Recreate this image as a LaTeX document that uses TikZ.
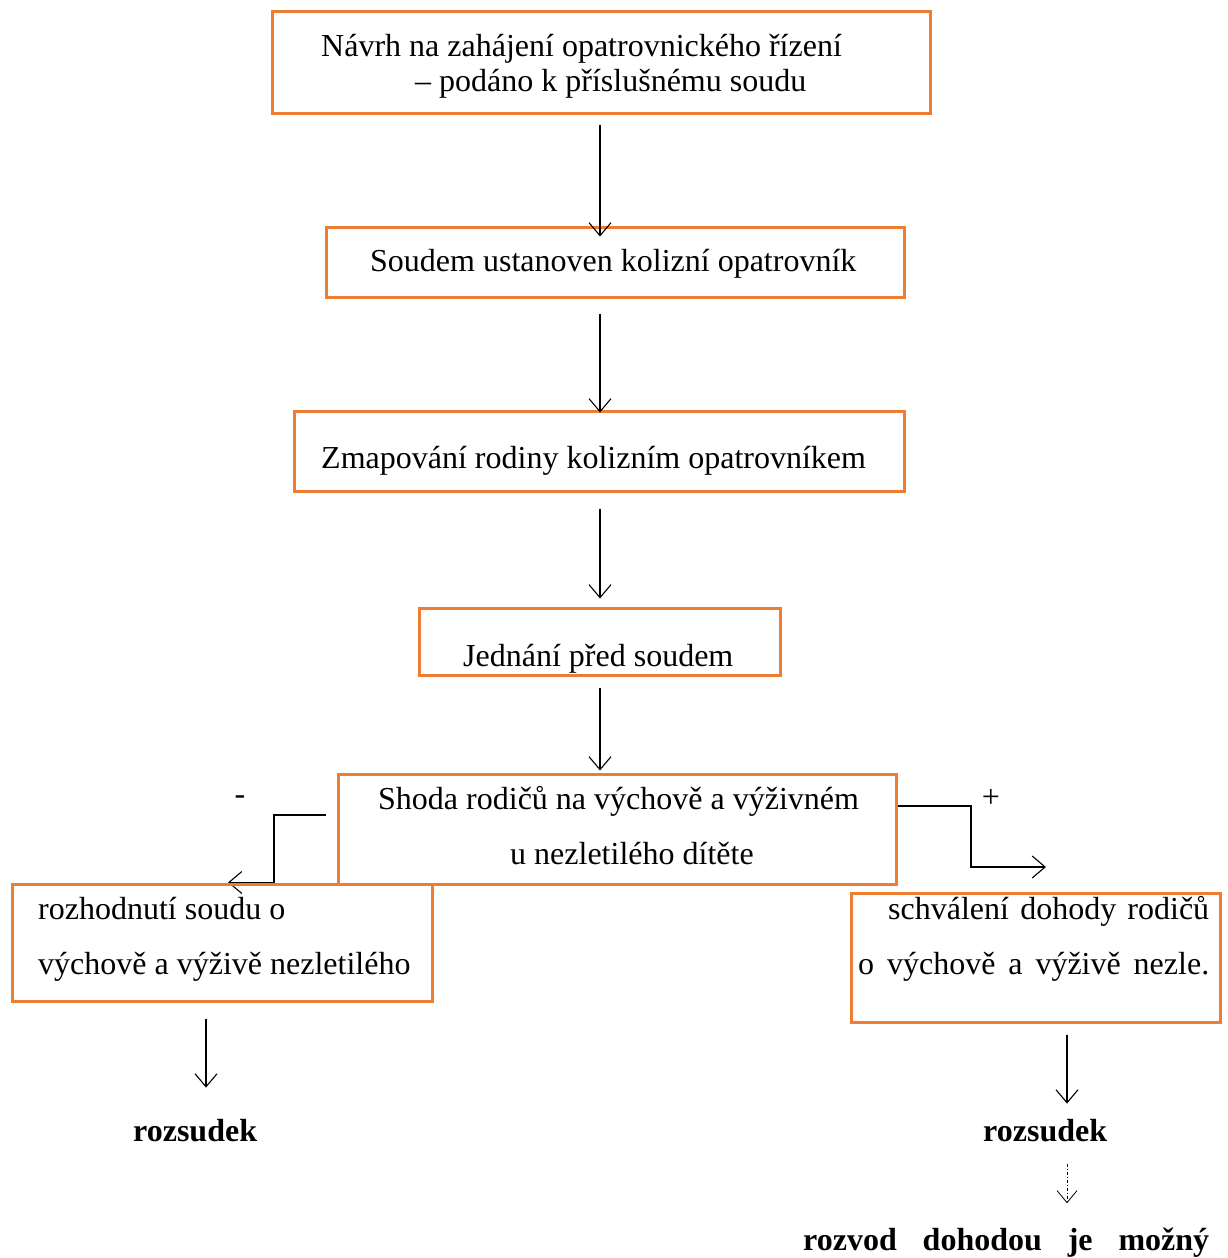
\documentclass[tikz,border=0pt]{standalone}
\usepackage{fontspec}
\setmainfont{Liberation Serif}
\usetikzlibrary{arrows.meta,backgrounds}
\definecolor{boxorange}{RGB}{237,125,49}
\tikzset{
  box/.style={draw=boxorange,line width=3pt,rectangle,inner sep=0pt},
  txt/.style={anchor=base west,inner sep=0pt,font=\fontsize{32}{38}\selectfont},
  bold/.style={txt,font=\fontsize{32}{38}\selectfont\bfseries},
  link/.style={line width=1.1pt,-{Straight Barb[length=13pt,width=22pt]}},
}
\begin{document}
\begin{tikzpicture}[x=1pt,y=-1pt]
 \useasboundingbox (0,0) rectangle (1227,1258);
 % boxes
 \node[box,minimum width=658pt,minimum height=102pt] (navrh) at (601,62) {};
 \node[box,minimum width=578pt,minimum height=70pt] (ustanoven) at (615,262) {};
 \node[box,minimum width=610pt,minimum height=80pt] (zmapovani) at (599,451) {};
 \node[box,minimum width=361pt,minimum height=67pt] (jednani) at (599.5,641.5) {};
 \node[box,minimum width=558pt,minimum height=110pt] (shoda) at (617,829) {};
 \node[box,minimum width=420pt,minimum height=117pt] (rozhodnuti) at (222,942.5) {};
 \node[box,minimum width=369pt,minimum height=129pt] (schvaleni) at (1035.5,957.5) {};
 % texts
 \node[txt] (navrh1) at (321,56) {Návrh na zahájení opatrovnického řízení};
 \node[txt] (navrh2) at (415,91) {– podáno k příslušnému soudu};
 \node[txt] (ustanovent) at (370,271) {Soudem ustanoven kolizní opatrovník};
 \node[txt] (zmapovanit) at (321,468) {Zmapování rodiny kolizním opatrovníkem};
 \node[txt] (jednanit) at (463,666) {Jednání před soudem};
 \node[txt] (shoda1) at (378,809) {Shoda rodičů na výchově a výživném};
 \node[txt] (shoda2) at (510,864) {u nezletilého dítěte};
 \node[txt] (rozhodnuti1) at (38,919) {rozhodnutí soudu o};
 \node[txt] (rozhodnuti2) at (38,974) {výchově a výživě nezletilého};
 \node[txt] (schvaleni1) at (888,919) {\makebox[321pt][s]{schválení dohody rodičů}};
 \node[txt] (schvaleni2) at (858,974) {\makebox[351pt][s]{o výchově a výživě nezle.}};
 \node[bold] (rozsudekl) at (133,1141) {rozsudek};
 \node[bold] (rozsudekr) at (983,1141) {rozsudek};
 \node[bold] (rozvod) at (803,1250) {\makebox[406pt][s]{rozvod dohodou je možný}};
 \node[txt,anchor=center] (minus) at (240,800) {-};
 \node[txt,anchor=center] (plus) at (991,798) {+};
 % connectors
 \draw[link] ([yshift=-10pt]navrh.south -| 600,0) -- ([yshift=-11pt]ustanoven.north -| 600,0);
 \draw[link] ([yshift=-15pt]ustanoven.south -| 600,0) -- ([yshift=-3pt]zmapovani.north -| 600,0);
 \draw[link] ([yshift=-16pt]zmapovani.south -| 600,0) -- ([yshift=8pt]jednani.north -| 600,0);
 \draw[link] ([yshift=-11pt]jednani.south -| 600,0) -- ([yshift=2pt]shoda.north -| 600,0);
 \begin{scope}[on background layer]
  \draw[link] ([xshift=-11pt]shoda.west |- 0,815) -| (rozhodnuti.north -| 274,0) -- (rozhodnuti.north -| 228,0);
 \end{scope}
 \draw[link] (shoda.east |- 0,806) -| (971,867) -- (1046,867);
 \draw[link] ([yshift=-16pt]rozhodnuti.south -| 206,0) -- ([yshift=31pt]rozsudekl.north -| 206,0);
 \draw[link] ([yshift=-11pt]schvaleni.south -| 1067,0) -- ([yshift=15pt]rozsudekr.north -| 1067,0);
 \draw[line width=0.8pt,dash pattern=on 3pt off 2pt on 1pt off 2pt,-{Straight Barb[length=12pt,width=20pt]}] ([yshift=-22pt]rozsudekr.south -| 1067,0) -- ([yshift=24pt]rozvod.north -| 1067,0);
\end{tikzpicture}
\end{document}
